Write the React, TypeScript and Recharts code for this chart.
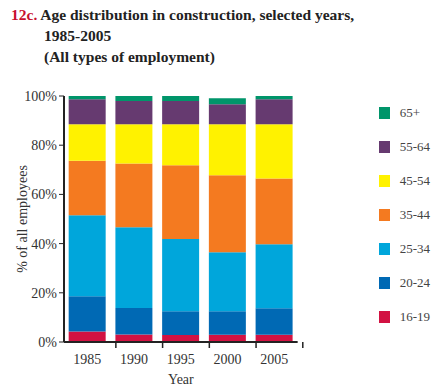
import { Bar, BarChart, Legend, XAxis, YAxis } from "recharts";

const YEARS = ["1985", "1990", "1995", "2000", "2005"];
const AGE_16_19 = [4.3, 3.0, 2.8, 2.9, 2.9];
const AGE_20_24 = [14.3, 10.8, 9.7, 9.6, 10.8];
const AGE_25_34 = [32.9, 32.8, 29.4, 24.0, 26.0];
const AGE_35_44 = [22.2, 26.0, 29.9, 31.3, 26.8];
const AGE_45_54 = [14.8, 15.9, 16.7, 20.7, 22.0];
const AGE_55_64 = [10.2, 9.5, 9.5, 8.1, 10.2];
const AGE_65_UP = [1.3, 2.0, 2.0, 2.5, 1.3];
const Y_TICKS = [0, 20, 40, 60, 80, 100];

const SERIES = [
  { key: "16-19", values: AGE_16_19, color: "#d21242" },
  { key: "20-24", values: AGE_20_24, color: "#0069b4" },
  { key: "25-34", values: AGE_25_34, color: "#00a6db" },
  { key: "35-44", values: AGE_35_44, color: "#f47a20" },
  { key: "45-54", values: AGE_45_54, color: "#fff200" },
  { key: "55-64", values: AGE_55_64, color: "#663a70" },
  { key: "65+", values: AGE_65_UP, color: "#00956a" },
];

const data = YEARS.map((year, i) => {
  const row: Record<string, number | string> = { year };
  for (const s of SERIES) row[s.key] = s.values[i];
  return row;
});

const SERIF = "'Liberation Serif', 'Times New Roman', serif";
const BAND = 57;

// ticks sit on the band boundaries, not the centers
function YearTick(props: any) {
  const { x, y, payload } = props;
  return (
    <g>
      <line x1={x + BAND / 2} x2={x + BAND / 2} y1={y - 8} y2={y - 2} stroke="#222" strokeWidth={1.5} />
      <text x={x} y={y + 14} textAnchor="middle" fontFamily={SERIF} fontSize={14} fill="#333">
        {payload.value}
      </text>
    </g>
  );
}

function LegendBox() {
  return (
    <div style={{ fontFamily: SERIF, fontSize: 13, color: "#444" }}>
      {[...SERIES].reverse().map((s) => (
        <div key={s.key} style={{ display: "flex", alignItems: "center", height: 34 }}>
          <span style={{ width: 11, height: 12, background: s.color, display: "inline-block" }} />
          <span style={{ marginLeft: 10 }}>{s.key}</span>
        </div>
      ))}
    </div>
  );
}

export default function App() {
  return (
    <div style={{ position: "absolute", left: 0, top: 0, width: 436, height: 387, background: "#fff" }}>
      <div
        style={{
          position: "absolute",
          left: 11,
          top: 4,
          fontFamily: SERIF,
          fontWeight: "bold",
          fontSize: 15.5,
          lineHeight: "21px",
          color: "#222",
          whiteSpace: "nowrap",
        }}
      >
        <div>
          <span style={{ color: "#c8102e" }}>12c.</span> Age distribution in construction, selected years,
        </div>
        <div style={{ paddingLeft: 33 }}>1985-2005</div>
        <div style={{ paddingLeft: 33 }}>(All types of employment)</div>
      </div>
      <BarChart
        width={436}
        height={387}
        data={data}
        margin={{ top: 96, right: 87, bottom: 12, left: 16 }}
        barCategoryGap="10%"
      >
        <XAxis
          dataKey="year"
          axisLine={{ stroke: "#222", strokeWidth: 2 }}
          tickLine={false}
          tick={<YearTick />}
          height={33}
          label={{ value: "Year", position: "insideBottom", offset: -9, fontFamily: SERIF, fontSize: 14, fill: "#333" }}
        />
        <YAxis
          domain={[0, 100]}
          ticks={Y_TICKS}
          tickFormatter={(v: number) => `${v}%`}
          axisLine={{ stroke: "#222", strokeWidth: 2 }}
          tickLine={{ stroke: "#222" }}
          tickSize={5}
          width={48}
          tick={{ fontFamily: SERIF, fontSize: 14, fill: "#333" }}
          label={{
            value: "% of all employees",
            angle: -90,
            position: "insideLeft",
            offset: 0,
            dx: 6,
            style: { textAnchor: "middle", fontFamily: SERIF, fontSize: 14, fill: "#333" },
          }}
        />
        <Legend layout="vertical" align="right" verticalAlign="top" wrapperStyle={{ top: 96, right: 6 }} content={<LegendBox />} />
        {SERIES.map((s) => (
          <Bar key={s.key} dataKey={s.key} stackId="a" fill={s.color} isAnimationActive={false} />
        ))}
      </BarChart>
    </div>
  );
}
